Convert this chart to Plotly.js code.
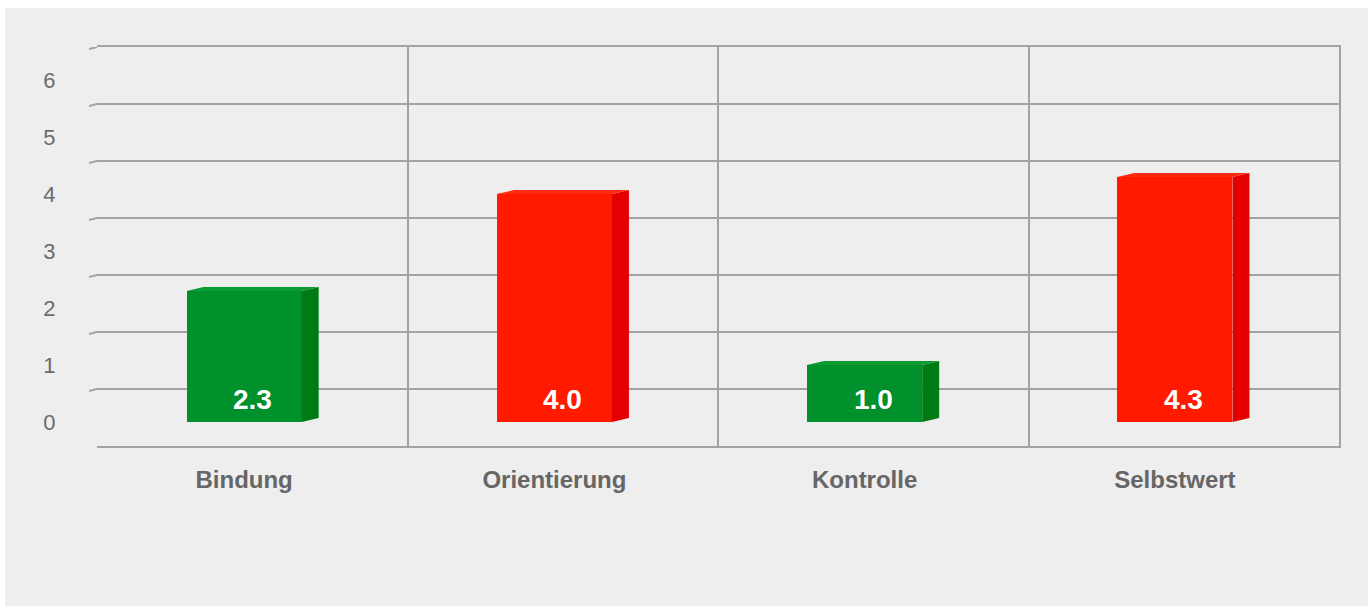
<!DOCTYPE html>
<html>
<head>
<meta charset="utf-8">
<script src="https://cdn.plot.ly/plotly-3.0.1.min.js"></script>
<style>
  body { margin: 0; background: #ffffff; }
  #plot { position: absolute; left: 5px; top: 8px; width: 1363px; height: 598px; }
</style>
</head>
<body>
<div id="plot"></div>
<script>
// Chart data
let categories = ['Bindung', 'Orientierung', 'Kontrolle', 'Selbstwert'];
let scores = [2.3, 4.0, 1.0, 4.3];
let yTicks = [0, 1, 2, 3, 4, 5, 6];

// Colours for each bar: front, side, top
let frontColors = ['#00902c', '#ff1a00', '#00902c', '#ff1a00'];
let shade = {
    '#00902c': { side: '#007b14', top: '#0b9b33' },
    '#ff1a00': { side: '#e40000', top: '#ff2b12' }
};

let gridColor = '#a3a3a3';
let font = '"Liberation Sans", Arial, sans-serif';

// 3D look: depth of the bars in axis units
let halfW = 0.1855;
let depthX = 0.0548;
let depthY = 0.07;

let pos = categories.map((c, i) => i);
let traces = [];

// invisible trace so the back wall subplot is drawn
traces.push({
    x: [0], y: [0],
    xaxis: 'x', yaxis: 'y',
    mode: 'markers',
    marker: { opacity: 0 },
    hoverinfo: 'skip',
    showlegend: false
});

// small slanted ends on the left of every back wall gridline
let edgeX = [];
let edgeY = [];
for (let k = 1; k <= 7; k++) {
    edgeX.push(-0.5, -0.4742, null);
    edgeY.push(k - 0.456, k - 0.421, null);
}
traces.push({
    x: edgeX, y: edgeY,
    xaxis: 'x2', yaxis: 'y2',
    mode: 'lines',
    line: { color: gridColor, width: 2 },
    hoverinfo: 'skip',
    showlegend: false
});

// front faces of the bars
traces.push({
    x: pos,
    y: scores,
    xaxis: 'x2', yaxis: 'y2',
    type: 'bar',
    width: 0.371,
    marker: { color: frontColors, line: { width: 0 } },
    hoverinfo: 'skip',
    showlegend: false
});

// side and top faces
scores.forEach(function (v, i) {
    let xl = i - halfW;
    let xr = i + halfW;
    traces.push({
        x: [xr, xr + depthX, xr + depthX, xr, xr],
        y: [0, depthY, v + depthY, v, 0],
        xaxis: 'x2', yaxis: 'y2',
        mode: 'lines', fill: 'toself',
        fillcolor: shade[frontColors[i]].side,
        line: { width: 0 },
        hoverinfo: 'skip', showlegend: false
    });
    traces.push({
        x: [xl, xr, xr + depthX, xl + depthX, xl],
        y: [v, v, v + depthY, v + depthY, v],
        xaxis: 'x2', yaxis: 'y2',
        mode: 'lines', fill: 'toself',
        fillcolor: shade[frontColors[i]].top,
        line: { width: 0 },
        hoverinfo: 'skip', showlegend: false
    });
});

// value labels at the bottom of each bar
let labels = scores.map(function (v, i) {
    return {
        x: i + depthX / 2,
        y: 0,
        xref: 'x2', yref: 'y2',
        text: v.toFixed(1),
        showarrow: false,
        yanchor: 'bottom',
        yshift: 5,
        font: { family: font, size: 28, color: '#ffffff', weight: 'bold' }
    };
});

let layout = {
    margin: { l: 84, r: 29, t: 39, b: 160 },
    paper_bgcolor: '#eeeeee',
    plot_bgcolor: 'rgba(0,0,0,0)',
    showlegend: false,
    bargap: 0,
    // back wall
    xaxis: {
        domain: [8 / 1250, 1],
        range: [-0.5, 3.5],
        tickvals: [0.5, 1.5, 2.5, 3.5],
        showticklabels: false,
        ticks: '',
        showgrid: true,
        gridcolor: gridColor,
        gridwidth: 2,
        zeroline: false,
        showline: true,
        mirror: true,
        linecolor: gridColor,
        linewidth: 2,
        fixedrange: true
    },
    yaxis: {
        anchor: 'x',
        range: [0, 7],
        dtick: 1,
        showticklabels: false,
        ticks: '',
        showgrid: true,
        gridcolor: gridColor,
        gridwidth: 2,
        zeroline: false,
        showline: true,
        side: 'right',
        linecolor: gridColor,
        linewidth: 2,
        fixedrange: true
    },
    // front plane with the bars
    xaxis2: {
        anchor: 'y2',
        domain: [0, 1241 / 1250],
        range: [-0.5, 3.5],
        tickvals: pos,
        ticktext: categories,
        ticks: 'outside',
        ticklen: 12,
        tickcolor: 'rgba(0,0,0,0)',
        tickfont: { family: font, size: 24, color: '#666666', weight: 'bold' },
        showgrid: false,
        zeroline: false,
        showline: false,
        fixedrange: true
    },
    yaxis2: {
        anchor: 'x2',
        range: [-0.421, 6.579],
        tickvals: yTicks,
        ticks: 'outside',
        ticklen: 28,
        tickcolor: 'rgba(0,0,0,0)',
        tickfont: { family: font, size: 22, color: '#6b6b6b' },
        showgrid: false,
        zeroline: false,
        showline: false,
        fixedrange: true
    },
    annotations: labels
};

Plotly.newPlot('plot', traces, layout, { displayModeBar: false, staticPlot: true });
</script>
</body>
</html>
